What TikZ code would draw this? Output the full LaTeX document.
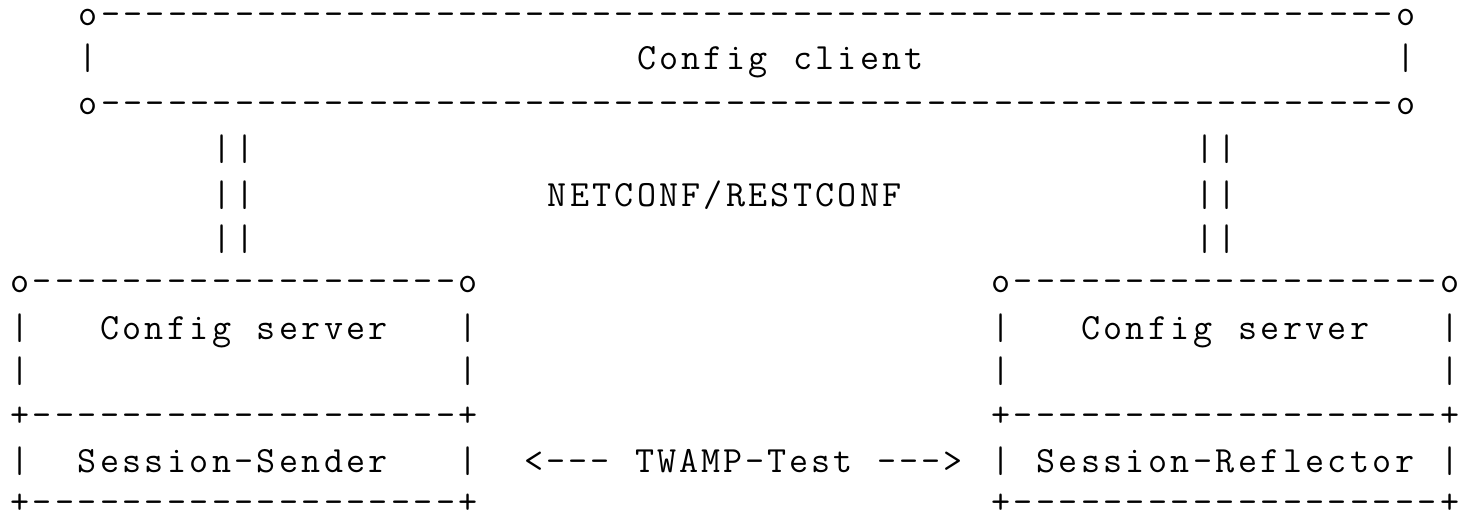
\documentclass[tikz,border=0pt]{standalone}
\usepackage{fontspec}
\ExplSyntaxOn
% one monospaced cell per character; '.' = blank cell; spaces are ignored
\NewDocumentCommand\asciirow{mm}
  {
    \str_map_inline:nn {#2}
      {
        \str_case:nnF {##1}
          {
            { ~ } { }
            { . } { \hspace*{#1} }
          }
          { \makebox[#1][c]{##1} }
      }
  }
\ExplSyntaxOff
\newcommand\pitchT{11.165pt}
\newcommand\pitchL{11.2pt}
\newcommand\pitchR{11.225pt}
\newcommand\pitchM{11.03pt}
\begin{document}
\begin{tikzpicture}[x=0.5pt,y=-0.5pt,
  asc/.style={inner sep=0pt,outer sep=0pt,anchor=base west,
    font=\fontsize{18.5pt}{18.5pt}\selectfont\ttfamily}]
\useasboundingbox (0,0) rectangle (1468,518);
% ---- Config client box and NETCONF/RESTCONF links
\node[asc] (c0) at (77.13,25.8)  {\asciirow{\pitchT}{o ---------- ---------- ---------- ---------- ---------- -------- o}};
\node[asc] (c1) at (77.13,69.5)  {\asciirow{\pitchT}{| ........ ........ ........ Config.client ........ ........ ..... |}};
\node[asc] (c2) at (77.13,115)   {\asciirow{\pitchT}{o ---------- ---------- ---------- ---------- ---------- -------- o}};
\node[asc] (l3) at (77.13,161)   {\asciirow{\pitchT}{...... || ........ ........ ........ ........ ........ .. ||}};
\node[asc] (l4) at (77.13,206.2) {\asciirow{\pitchT}{...... || ........ ..... NETCONF/RESTCONF ........ ..... ||}};
\node[asc] (l5) at (77.13,251)   {\asciirow{\pitchT}{...... || ........ ........ ........ ........ ........ .. ||}};
% ---- left box
\node[asc] (a6)  at (8.8,292.5) {\asciirow{\pitchL}{o ---------- --------- o}};
\node[asc] (a7)  at (8.8,339.5) {\asciirow{\pitchL}{| ... Config.server ... |}};
\node[asc] (a8)  at (8.8,383)   {\asciirow{\pitchL}{| ........ ........ ... |}};
\node[asc] (a9)  at (8.8,427)   {\asciirow{\pitchL}{+ ---------- --------- +}};
\node[asc] (a10) at (8.8,472.5) {\asciirow{\pitchL}{| .. Session-Sender ... |}};
\node[asc] (a11) at (8.8,513)   {\asciirow{\pitchL}{+ ---------- --------- +}};
% ---- TWAMP-Test
\node[asc] (m10) at (523.2,472.5) {\asciirow{\pitchM}{<--- . TWAMP-Test . --->}};
% ---- right box
\node[asc] (b6)  at (989.5,292.5) {\asciirow{\pitchR}{o ---------- --------- o}};
\node[asc] (b7)  at (989.5,339.5) {\asciirow{\pitchR}{| ... Config.server ... |}};
\node[asc] (b8)  at (989.5,383)   {\asciirow{\pitchR}{| ........ ........ ... |}};
\node[asc] (b9)  at (989.5,427)   {\asciirow{\pitchR}{+ ---------- --------- +}};
\node[asc] (b10) at (989.5,472.5) {\asciirow{\pitchR}{| . Session-Reflector . |}};
\node[asc] (b11) at (989.5,513)   {\asciirow{\pitchR}{+ ---------- --------- +}};
\end{tikzpicture}
\end{document}
